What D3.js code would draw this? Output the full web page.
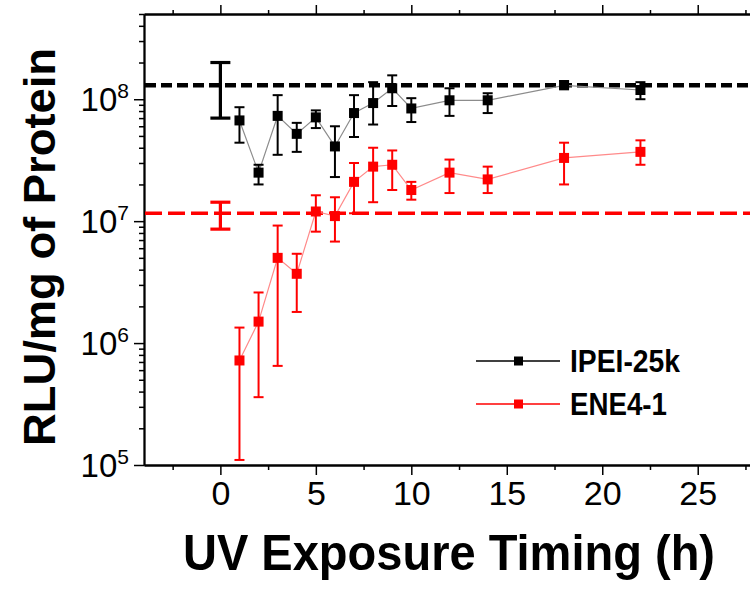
<!DOCTYPE html>
<html>
<head>
<meta charset="utf-8">
<script src="https://cdn.jsdelivr.net/npm/d3@7"></script>
<style>
  body { margin: 0; background: #fff; }
  svg { display: block; }
</style>
</head>
<body>
<div id="chart"></div>
<script>
// UV exposure timing vs luciferase expression (RLU/mg of protein)
const hours = [1, 2, 3, 4, 5, 6, 7, 8, 9, 10, 12, 14, 18, 22];

const ipeiMean = [6.7e7, 2.5e7, 7.3e7, 5.2e7, 7.1e7, 4.1e7, 7.7e7, 9.3e7, 1.23e8, 8.4e7, 9.8e7, 9.8e7, 1.3e8, 1.19e8];
const ipeiLow  = [4.4e7, 2.0e7, 3.5e7, 3.7e7, 5.8e7, 2.3e7, 4.9e7, 6.2e7, 8.8e7, 6.5e7, 7.3e7, 7.7e7, 1.23e8, 1.0e8];
const ipeiHigh = [8.6e7, 2.9e7, 1.08e8, 6.4e7, 8.1e7, 6.0e7, 1.08e8, 1.38e8, 1.57e8, 1.02e8, 1.23e8, 1.12e8, 1.41e8, 1.38e8];

const eneMean = [7.2e5, 1.5e6, 5.0e6, 3.7e6, 1.2e7, 1.1e7, 2.1e7, 2.8e7, 2.9e7, 1.8e7, 2.5e7, 2.2e7, 3.3e7, 3.7e7];
const eneLow  = [1.1e5, 3.6e5, 6.5e5, 1.8e6, 8.2e6, 6.8e6, 1.16e7, 1.43e7, 1.8e7, 1.5e7, 1.7e7, 1.7e7, 2.0e7, 2.9e7];
const eneHigh = [1.34e6, 2.6e6, 9.2e6, 5.4e6, 1.63e7, 1.57e7, 3.0e7, 4.0e7, 3.8e7, 2.1e7, 3.2e7, 2.8e7, 4.4e7, 4.6e7];

// controls (no UV), drawn at t = 0 with a dashed reference level
const controlHour = 0;
const controlMean = [1.3e8, 1.16e7];
const controlLow  = [7.0e7, 8.6e6];
const controlHigh = [2.0e8, 1.43e7];

const seriesNames = ["IPEI-25k", "ENE4-1"];
const seriesColors = ["#000000", "#ff0000"];
const lineColors = ["#8c8c8c", "#ff8a8a"];

const xMajor = [0, 5, 10, 15, 20, 25];
const xMinor = [-2.5, 2.5, 7.5, 12.5, 17.5, 22.5, 27.5];
const yMajor = [1e5, 1e6, 1e7, 1e8];

const width = 750, height = 591;
const marginLeft = 144, marginTop = 14, plotBottom = 465, plotRight = 755;
const font = "'Liberation Sans', Arial, sans-serif";

const x = d3.scaleLinear().domain([-4, 28]).range([marginLeft, plotRight]);
const y = d3.scaleLog().domain([1e5, 5e8]).range([plotBottom, marginTop]);

// minor log ticks 2..9 per decade
const yMinor = [];
for (let e = 5; e <= 8; e++) {
  for (let m = 2; m <= 9; m++) {
    const v = m * Math.pow(10, e);
    if (v <= 5e8) yMinor.push(v);
  }
}

const svg = d3.select("#chart")
  .append("svg")
  .attr("width", width)
  .attr("height", height)
  .attr("viewBox", [0, 0, width, height]);

// axes: majors and minors drawn as two passes
function styleAxis(g) {
  g.select(".domain").attr("stroke", "#000").attr("stroke-width", 1.8);
  g.selectAll(".tick line").attr("stroke", "#000").attr("stroke-width", 1.5);
}

svg.append("g")
  .attr("transform", `translate(0,${plotBottom})`)
  .call(d3.axisBottom(x).tickValues(xMinor).tickSize(5).tickFormat("").tickSizeOuter(0))
  .call(styleAxis);

svg.append("g")
  .attr("transform", `translate(0,${plotBottom})`)
  .call(d3.axisBottom(x).tickValues(xMajor).tickSize(10).tickSizeOuter(0))
  .call(styleAxis)
  .call((g) => g.selectAll(".tick text")
    .attr("y", 40)
    .attr("dy", 0)
    .attr("font-family", font)
    .attr("font-size", 34)
    .attr("fill", "#000"));

svg.append("g")
  .attr("transform", `translate(0,${marginTop})`)
  .call(d3.axisTop(x).tickValues(xMinor).tickSize(4).tickFormat("").tickSizeOuter(0))
  .call(styleAxis);

svg.append("g")
  .attr("transform", `translate(0,${marginTop})`)
  .call(d3.axisTop(x).tickValues(xMajor).tickSize(9).tickFormat("").tickSizeOuter(0))
  .call(styleAxis);

svg.append("g")
  .attr("transform", `translate(${marginLeft},0)`)
  .call(d3.axisLeft(y).tickValues(yMinor).tickSize(5).tickFormat("").tickSizeOuter(0))
  .call(styleAxis);

svg.append("g")
  .attr("transform", `translate(${marginLeft},0)`)
  .call(d3.axisLeft(y).tickValues(yMajor).tickSize(10).tickFormat("").tickSizeOuter(0))
  .call(styleAxis)
  .call((g) => g.selectAll(".tick").each(function (d) {
    const t = d3.select(this).append("text")
      .attr("x", -15)
      .attr("y", 11)
      .attr("text-anchor", "end")
      .attr("font-family", font)
      .attr("fill", "#000");
    t.append("tspan").attr("font-size", 33).text("10");
    t.append("tspan").attr("font-size", 21).attr("dy", -13)
      .text(Math.round(Math.log10(d)));
  }));

svg.append("g")
  .attr("transform", `translate(${plotRight},0)`)
  .call(d3.axisRight(y).tickValues(yMajor).tickSize(9).tickFormat("").tickSizeOuter(0))
  .call(styleAxis);

// control reference lines
const dashes = ["11,5", "17,6"];
const dashWidth = [4.5, 3.5];
svg.append("g")
  .selectAll("line")
  .data(controlMean)
  .join("line")
  .attr("x1", marginLeft + 1)
  .attr("x2", plotRight)
  .attr("y1", (d) => y(d))
  .attr("y2", (d) => y(d))
  .attr("stroke", (d, i) => seriesColors[i])
  .attr("stroke-width", (d, i) => dashWidth[i])
  .attr("stroke-dasharray", (d, i) => dashes[i]);

// control error bars (thick, wide caps)
const ctrl = svg.append("g");
controlMean.forEach((m, i) => {
  const cx = x(controlHour);
  const g = ctrl.append("g")
    .attr("stroke", seriesColors[i])
    .attr("stroke-width", 3.2);
  g.append("line").attr("x1", cx).attr("x2", cx)
    .attr("y1", y(controlLow[i])).attr("y2", y(controlHigh[i]));
  [controlLow[i], controlHigh[i]].forEach((v) => {
    g.append("line").attr("x1", cx - 10).attr("x2", cx + 10)
      .attr("y1", y(v)).attr("y2", y(v));
  });
});

// series
const series = [
  { mean: ipeiMean, low: ipeiLow, high: ipeiHigh },
  { mean: eneMean, low: eneLow, high: eneHigh },
];

const line = d3.line()
  .x((d) => x(d[0]))
  .y((d) => y(d[1]));

series.forEach((s, k) => {
  const pts = hours.map((h, i) => [h, s.mean[i], s.low[i], s.high[i]]);
  const g = svg.append("g");

  g.append("path")
    .datum(pts)
    .attr("d", line)
    .attr("fill", "none")
    .attr("stroke", lineColors[k])
    .attr("stroke-width", 1.2);

  const bars = g.append("g")
    .attr("stroke", seriesColors[k])
    .attr("stroke-width", 2);
  bars.selectAll(".v")
    .data(pts)
    .join("line")
    .attr("x1", (d) => x(d[0]))
    .attr("x2", (d) => x(d[0]))
    .attr("y1", (d) => y(d[2]))
    .attr("y2", (d) => y(d[3]));
  bars.selectAll(".lo")
    .data(pts)
    .join("line")
    .attr("class", "lo")
    .attr("x1", (d) => x(d[0]) - 5)
    .attr("x2", (d) => x(d[0]) + 5)
    .attr("y1", (d) => y(d[2]))
    .attr("y2", (d) => y(d[2]));
  bars.selectAll(".hi")
    .data(pts)
    .join("line")
    .attr("class", "hi")
    .attr("x1", (d) => x(d[0]) - 5)
    .attr("x2", (d) => x(d[0]) + 5)
    .attr("y1", (d) => y(d[3]))
    .attr("y2", (d) => y(d[3]));

  g.selectAll("rect")
    .data(pts)
    .join("rect")
    .attr("x", (d) => x(d[0]) - 5)
    .attr("y", (d) => y(d[1]) - 5)
    .attr("width", 10)
    .attr("height", 10)
    .attr("fill", seriesColors[k]);
});

// legend
const legend = svg.append("g").attr("transform", "translate(476,361)");
seriesNames.forEach((name, i) => {
  const row = legend.append("g").attr("transform", `translate(0,${i * 43})`);
  row.append("line")
    .attr("x1", 0).attr("x2", 84)
    .attr("stroke", seriesColors[i])
    .attr("stroke-width", 1.6);
  row.append("rect")
    .attr("x", 38).attr("y", -4.5)
    .attr("width", 9).attr("height", 9)
    .attr("fill", seriesColors[i]);
  row.append("text")
    .attr("x", 94)
    .attr("y", 11)
    .attr("font-family", font)
    .attr("font-weight", "bold")
    .attr("font-size", 31)
    .attr("textLength", i === 0 ? 110 : 97)
    .attr("lengthAdjust", "spacingAndGlyphs")
    .text(name);
});

// axis titles
svg.append("text")
  .attr("x", 449)
  .attr("y", 570)
  .attr("text-anchor", "middle")
  .attr("font-family", font)
  .attr("font-weight", "bold")
  .attr("font-size", 50)
  .attr("textLength", 532)
  .attr("lengthAdjust", "spacingAndGlyphs")
  .text("UV Exposure Timing (h)");

svg.append("text")
  .attr("transform", "translate(55,247)rotate(-90)")
  .attr("text-anchor", "middle")
  .attr("font-family", font)
  .attr("font-weight", "bold")
  .attr("font-size", 45)
  .attr("textLength", 398)
  .attr("lengthAdjust", "spacingAndGlyphs")
  .text("RLU/mg of Protein");
</script>
</body>
</html>
